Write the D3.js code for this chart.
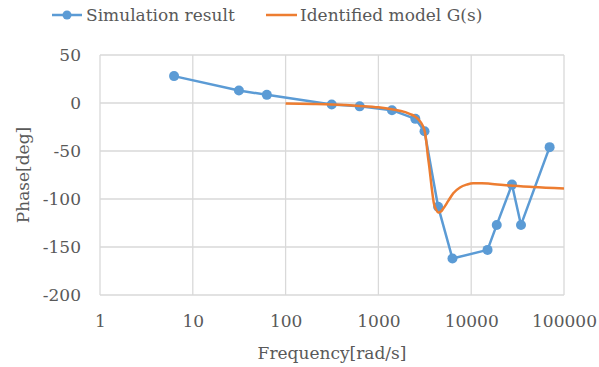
<!DOCTYPE html>
<meta charset="utf-8">
<style>
    body { margin: 0; background: #fff; }
    text { font-family: "DejaVu Serif", "Liberation Serif", serif; fill: #595959; }
    .grid line { stroke: #d9d9d9; stroke-width: 1.3px; }
</style>
<svg width="599" height="367"></svg>
<script src="https://d3js.org/d3.v7.min.js"></script>
<script>
    // simulation result (frequency rad/s, phase deg)
    var simFreq = [6.28, 31.4, 62.8, 314, 628, 1400, 2500, 3140, 4400, 6280, 15000, 18850, 27500, 34400, 70000];
    var simPhase = [28, 13, 8.5, -1.5, -3.5, -7.5, -16.5, -29.5, -108, -162, -153, -127, -85, -127, -46];

    // identified model G(s)
    var modelFreq = [100, 200, 314, 630, 1000, 1400, 1950, 2200, 2480, 2700, 2900, 3050, 3180, 3280, 3400, 3540, 3750, 3970, 4180, 4420, 4730, 5000, 5660, 6410, 7570, 8950, 10500, 13000, 16000, 26000, 46000, 100000];
    var modelPhase = [-0.5, -1, -1.5, -3, -4.5, -6.5, -9.5, -11.5, -14, -17, -21, -25, -31, -40, -54, -67, -88, -105, -111, -114, -113, -110, -102, -94, -88, -85, -83.5, -83.5, -84, -86, -87.5, -89];

    var yTicks = [50, 0, -50, -100, -150, -200];
    var xTicks = [1, 10, 100, 1000, 10000, 100000];

    var svg = d3.select("svg"),
        pLeft = 100, pRight = 564, pTop = 55, pBottom = 295;

    var x = d3.scaleLog().domain([1, 100000]).range([pLeft, pRight]);
    var y = d3.scaleLinear().domain([-200, 50]).range([pBottom, pTop]);

    var grid = svg.append("g").attr("class", "grid");
    grid.selectAll(".h").data(yTicks).enter().append("line")
        .attr("x1", pLeft).attr("x2", pRight)
        .attr("y1", function(d) { return y(d); })
        .attr("y2", function(d) { return y(d); });
    grid.selectAll(".v").data(xTicks).enter().append("line")
        .attr("y1", pTop).attr("y2", pBottom)
        .attr("x1", function(d) { return x(d); })
        .attr("x2", function(d) { return x(d); });

    var yAxis = d3.axisLeft(y).tickValues(yTicks).tickSize(0).tickPadding(19)
        .tickFormat(function(d) { return String(d); });
    svg.append("g").attr("transform", "translate(" + pLeft + ",0)").call(yAxis)
        .call(function(g) { g.select(".domain").remove(); });

    var xAxis = d3.axisBottom(x).tickValues(xTicks).tickSize(0).tickPadding(20)
        .tickFormat(function(d) { return String(d); });
    svg.append("g").attr("transform", "translate(0," + pBottom + ")").call(xAxis)
        .call(function(g) { g.select(".domain").remove(); });

    svg.selectAll(".tick text")
        .style("font-size", "17px").attr("fill", "#595959");
    svg.selectAll("g[font-family]").attr("font-family", null);

    var model = modelFreq.map(function(f, i) { return [f, modelPhase[i]]; });
    var sim = simFreq.map(function(f, i) { return [f, simPhase[i]]; });

    var line = d3.line()
        .x(function(d) { return x(d[0]); })
        .y(function(d) { return y(d[1]); });

    svg.append("path").datum(sim)
        .attr("fill", "none").attr("stroke", "#5b9bd5").attr("stroke-width", 2.5)
        .attr("stroke-linejoin", "round")
        .attr("d", line);

    svg.selectAll(".dot").data(sim).enter().append("circle")
        .attr("cx", function(d) { return x(d[0]); })
        .attr("cy", function(d) { return y(d[1]); })
        .attr("r", 5)
        .attr("fill", "#5b9bd5");

    svg.append("path").datum(model)
        .attr("fill", "none").attr("stroke", "#ed7d31").attr("stroke-width", 2.5)
        .attr("stroke-linejoin", "round")
        .attr("d", line.curve(d3.curveMonotoneX));

    // axis titles
    svg.append("text").attr("x", 332).attr("y", 359).attr("text-anchor", "middle")
        .style("font-size", "17px").text("Frequency[rad/s]");
    svg.append("text").attr("transform", "translate(29,175) rotate(-90)").attr("text-anchor", "middle")
        .style("font-size", "17px").text("Phase[deg]");

    // legend
    var lg = svg.append("g");
    lg.append("line").attr("x1", 52).attr("x2", 82).attr("y1", 15).attr("y2", 15)
        .attr("stroke", "#5b9bd5").attr("stroke-width", 2.5);
    lg.append("circle").attr("cx", 67).attr("cy", 15).attr("r", 4.5).attr("fill", "#5b9bd5");
    lg.append("text").attr("x", 86).attr("y", 21).style("font-size", "17px").text("Simulation result");
    lg.append("line").attr("x1", 266).attr("x2", 297).attr("y1", 15).attr("y2", 15)
        .attr("stroke", "#ed7d31").attr("stroke-width", 2.5);
    lg.append("text").attr("x", 300).attr("y", 21).style("font-size", "17px").text("Identified model G(s)");
</script>
